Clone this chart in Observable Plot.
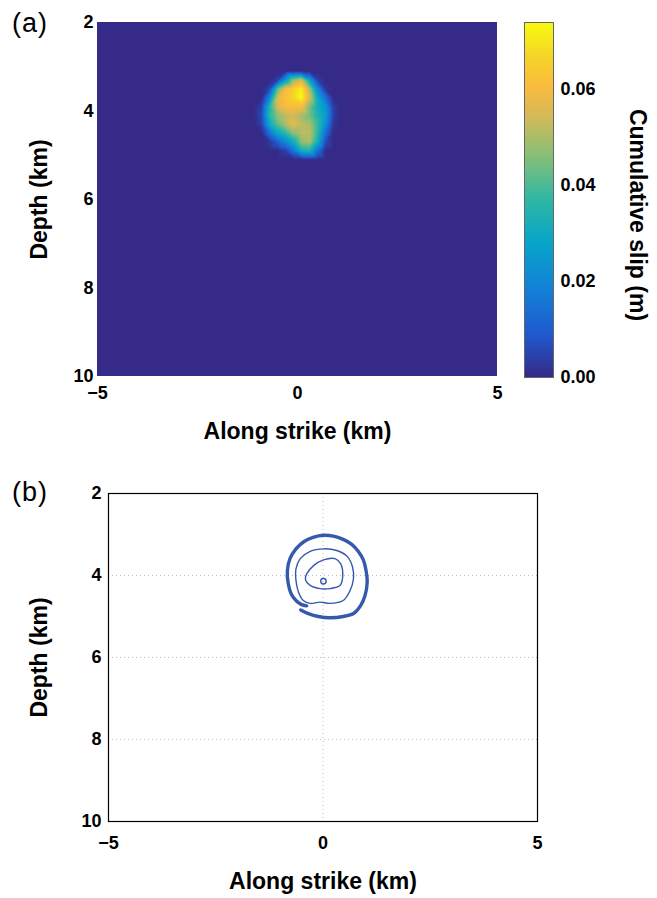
<!DOCTYPE html>
<html><head><meta charset="utf-8">
<script src="https://cdn.jsdelivr.net/npm/d3@7"></script>
<script src="https://cdn.jsdelivr.net/npm/@observablehq/plot@0.6"></script>
<style>
body{margin:0;background:#fff;}
#fig{position:relative;width:657px;height:898px;font-family:"Liberation Sans",Arial,Helvetica,sans-serif;color:#000;}
#fig > svg, #fig > figure{position:absolute;margin:0;}
.plabel{position:absolute;font-size:27px;font-weight:normal;line-height:1;letter-spacing:1px;}
</style></head><body>
<div id="fig">
 <div class="plabel" style="left:12px;top:10px">(a)</div>
 <div class="plabel" style="left:12px;top:479px">(b)</div>
</div>
<script>
// ---------- data ----------
const xTicks = [-5, 0, 5];
const yTicks = [2, 4, 6, 8, 10];
const cbarTicks = [0, 0.02, 0.04, 0.06];
const slipMax = 0.074;
// parula-like colour stops (position, colour)
const parulaPos = [0, 0.125, 0.25, 0.375, 0.5, 0.625, 0.74, 0.82, 0.9, 1];
const parulaCol = ["#352a87","#1f5bd0","#1481d6","#06a4ca","#2eb7a4","#87bf77","#d6ba56","#fbbb3e","#f5d32a","#f9fb0e"];

// slip grid (m): columns = along strike (km), rows = depth (km)
const alongStrike = [-1.1,-0.9,-0.7,-0.5,-0.3,-0.1,0.1,0.3,0.5,0.7,0.9,1.1];
const depthRows   = [3.1,3.3,3.5,3.7,3.9,4.1,4.3,4.5,4.7,4.9,5.1];
const slipGrid = [
 [0,0,0,0,0,0,0,0,0,0,0,0],
 [0,0,0,0.004,0.026,0.048,0.055,0.028,0.004,0,0,0],
 [0,0,0.005,0.042,0.06,0.066,0.072,0.05,0.02,0.002,0,0],
 [0,0,0.02,0.055,0.063,0.067,0.074,0.055,0.03,0.014,0,0],
 [0,0.004,0.035,0.055,0.06,0.062,0.061,0.045,0.032,0.024,0.003,0],
 [0,0.006,0.036,0.047,0.052,0.054,0.05,0.044,0.034,0.026,0.004,0],
 [0,0.004,0.03,0.042,0.05,0.057,0.052,0.05,0.038,0.022,0.002,0],
 [0,0,0.015,0.029,0.036,0.047,0.052,0.052,0.037,0.014,0,0],
 [0,0,0.002,0.01,0.02,0.031,0.047,0.05,0.032,0.006,0,0],
 [0,0,0,0,0.004,0.015,0.032,0.034,0.014,0,0,0],
 [0,0,0,0,0,0,0,0,0,0,0,0]
];

// rupture-front contours (km): [along strike, depth]
const outerFront = [[-0.52,4.84],[-0.34,4.93],[-0.11,5.00],[0.16,5.03],[0.47,5.00],[0.72,4.92],[0.88,4.73],[0.98,4.49],[1.03,4.16],[1.00,3.86],[0.94,3.62],[0.82,3.41],[0.67,3.24],[0.47,3.12],[0.24,3.04],[0.01,3.02],[-0.23,3.07],[-0.44,3.17],[-0.63,3.35],[-0.77,3.59],[-0.83,3.88],[-0.81,4.20],[-0.74,4.45],[-0.63,4.61],[-0.50,4.71],[-0.38,4.74]];
const ring2 = [[0.01,3.35],[0.32,3.39],[0.57,3.54],[0.69,3.80],[0.71,4.08],[0.63,4.37],[0.47,4.61],[0.16,4.68],[-0.07,4.65],[-0.30,4.68],[-0.46,4.61],[-0.57,4.41],[-0.63,4.12],[-0.63,3.84],[-0.53,3.59],[-0.30,3.41]];
const ring3 = [[-0.38,3.96],[-0.22,3.76],[0.01,3.62],[0.28,3.59],[0.41,3.71],[0.46,4.00],[0.40,4.24],[0.16,4.32],[-0.07,4.32],[-0.30,4.24],[-0.41,4.10]];
const ring4 = [[0.01,4.14]];

// ---------- build ----------
const slipPoints = [];
depthRows.forEach((y, i) => alongStrike.forEach((x, j) => slipPoints.push({x, y, slip: slipGrid[i][j]})));

const fmt = d3.format("d");
const font = {fontFamily: '"Liberation Sans", Arial, Helvetica, sans-serif', fontSize: "18px", fontWeight: "bold", color: "black", background: "transparent"};
const stopScale = d3.scaleLinear().domain(parulaPos).range(parulaCol).interpolate(d3.interpolateRgb).clamp(true);
const colorOpts = () => ({type: "linear", domain: [0, slipMax], interpolate: t => stopScale(t)});
const blue = "#3559ad";
const fig = document.getElementById("fig");

function styleLabels(svg) {
  svg.querySelectorAll('g[aria-label="x-axis label"] text, g[aria-label="y-axis label"] text').forEach(t => t.setAttribute("font-size", "23"));
}

const plotA = Plot.plot({
  width: 510, height: 450, marginLeft: 97, marginRight: 13, marginTop: 22, marginBottom: 74,
  style: font,
  x: {domain: [-5, 5], ticks: xTicks, tickFormat: fmt, tickSize: 0, tickPadding: 10, label: "Along strike (km)", labelAnchor: "center", labelOffset: 62, labelArrow: "none"},
  y: {domain: [2, 10], reverse: true, ticks: yTicks, tickFormat: fmt, tickSize: 0, tickPadding: 4, label: "Depth (km)", labelAnchor: "center", labelOffset: 67, labelArrow: "none"},
  color: colorOpts(),
  marks: [
    Plot.rect([{slip: 0}], {x1: -5, x2: 5, y1: 2, y2: 10, fill: "slip"}),
    Plot.raster(slipPoints, {x: "x", y: "y", fill: "slip", interpolate: "barycentric", x1: -1.1, x2: 1.1, y1: 3.1, y2: 5.1})
  ]
});
styleLabels(plotA);
plotA.style.left = "0px"; plotA.style.top = "0px";
fig.appendChild(plotA);

const plotC = Plot.plot({
  width: 147, height: 450, marginLeft: 14, marginRight: 104, marginTop: 22, marginBottom: 73,
  style: font,
  x: {domain: [0, 1], axis: null},
  y: {domain: [0, slipMax], ticks: cbarTicks, tickFormat: d3.format(".2f"), tickSize: 0, tickPadding: 7, axis: "right", label: null},
  color: colorOpts(),
  marks: [
    Plot.raster({fill: (x, y) => y, x1: 0, x2: 1, y1: 0, y2: slipMax}),
    Plot.frame({stroke: "#666"}),
    Plot.text(["Cumulative slip (m)"], {frameAnchor: "right", dx: 84, dy: 15, rotate: 90, textAnchor: "middle", fontSize: 23, fontWeight: "bold"})
  ]
});
plotC.style.left = "510px"; plotC.style.top = "0px";
fig.appendChild(plotC);

const plotB = Plot.plot({
  width: 657, height: 428, marginLeft: 108, marginRight: 120, marginTop: 23, marginBottom: 77,
  style: font,
  x: {domain: [-5, 5], ticks: xTicks, tickFormat: fmt, tickSize: 0, tickPadding: 15, label: "Along strike (km)", labelAnchor: "center", labelOffset: 67, labelArrow: "none"},
  y: {domain: [2, 10], reverse: true, ticks: yTicks, tickFormat: fmt, tickSize: 0, tickPadding: 7, label: "Depth (km)", labelAnchor: "center", labelOffset: 78, labelArrow: "none"},
  marks: [
    Plot.gridX(xTicks, {stroke: "#bbb", strokeOpacity: 1, strokeDasharray: "1,3"}),
    Plot.gridY(yTicks, {stroke: "#bbb", strokeOpacity: 1, strokeDasharray: "1,3"}),
    Plot.line(outerFront, {x: d => d[0], y: d => d[1], stroke: blue, strokeWidth: 3.4, curve: "catmull-rom"}),
    Plot.line(ring2, {x: d => d[0], y: d => d[1], stroke: blue, strokeWidth: 1.4, curve: "catmull-rom-closed"}),
    Plot.line(ring3, {x: d => d[0], y: d => d[1], stroke: blue, strokeWidth: 1.4, curve: "catmull-rom-closed"}),
    Plot.dot(ring4, {x: d => d[0], y: d => d[1], r: 2.7, stroke: blue, strokeWidth: 1.4}),
    Plot.frame({stroke: "black", strokeWidth: 1.2})
  ]
});
styleLabels(plotB);
plotB.style.left = "0px"; plotB.style.top = "470px";
fig.appendChild(plotB);
</script>
</body></html>
